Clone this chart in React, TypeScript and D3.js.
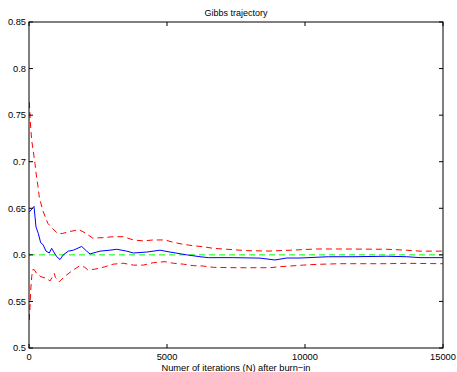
import React from "react";
import * as d3 from "d3";

const W = 457;
const H = 372;

const xTicks = [0, 5000, 10000, 15000];
const yTicks = [0.5, 0.55, 0.6, 0.65, 0.7, 0.75, 0.8, 0.85];
const trueValue = 0.6;

const meanIter = [11, 181, 254, 337, 424, 507, 616, 736, 822, 880, 1004, 1123, 1243, 1424, 1605, 1909, 2090, 2210, 2453, 2572, 2935, 3178, 3540, 3779, 4264, 4746, 5109, 5714, 6196, 6497, 7402, 8370, 8913, 9337, 9819, 10844, 11739, 12960, 13685, 14167, 15000];
const meanVal = [0.646, 0.652, 0.63, 0.623, 0.613, 0.611, 0.604, 0.602, 0.607, 0.604, 0.598, 0.595, 0.6, 0.604, 0.605, 0.609, 0.604, 0.601, 0.603, 0.604, 0.605, 0.606, 0.604, 0.602, 0.603, 0.605, 0.603, 0.6, 0.598, 0.597, 0.597, 0.5965, 0.5945, 0.5966, 0.5966, 0.598, 0.598, 0.5985, 0.598, 0.597, 0.597];

const upperIter = [11, 62, 98, 156, 217, 254, 315, 373, 496, 678, 859, 1040, 1221, 1460, 1822, 2065, 2308, 2692, 3054, 3417, 3779, 4141, 4504, 4928, 5228, 5591, 5953, 6315, 6677, 7163, 7888, 8732, 9457, 10424, 11268, 12960, 13685, 14167, 15000];
const upperVal = [0.764, 0.736, 0.723, 0.711, 0.698, 0.688, 0.676, 0.662, 0.648, 0.634, 0.628, 0.623, 0.623, 0.625, 0.627, 0.623, 0.618, 0.6185, 0.6195, 0.6195, 0.616, 0.615, 0.616, 0.616, 0.6135, 0.6113, 0.6098, 0.6087, 0.607, 0.606, 0.6045, 0.6041, 0.605, 0.6063, 0.6063, 0.606, 0.605, 0.604, 0.604];

const lowerIter = [11, 36, 62, 98, 134, 192, 279, 435, 616, 761, 917, 953, 1098, 1279, 1522, 1822, 2004, 2127, 2366, 2728, 3054, 3417, 3779, 4141, 4504, 4928, 5228, 5591, 5953, 6315, 6677, 7525, 8732, 9094, 9457, 9938, 10424, 11268, 12960, 13685, 15000];
const lowerVal = [0.53, 0.544, 0.562, 0.5765, 0.584, 0.584, 0.58, 0.5765, 0.575, 0.572, 0.58, 0.576, 0.571, 0.5765, 0.582, 0.588, 0.587, 0.584, 0.5845, 0.587, 0.59, 0.591, 0.589, 0.589, 0.5916, 0.5927, 0.591, 0.59, 0.5884, 0.588, 0.5866, 0.5862, 0.5862, 0.5873, 0.588, 0.589, 0.5898, 0.5905, 0.5905, 0.5909, 0.5905];

const L = 29, R = 443, T = 22, B = 348;
const FONT = "'Liberation Sans', Arial, Helvetica, sans-serif";

export default function App() {
  const x = d3.scaleLinear().domain([0, 15000]).range([L, R]);
  const y = d3.scaleLinear().domain([0.5, 0.85]).range([B, T]);
  const line = d3
    .line<[number, number]>()
    .x((d) => x(d[0]))
    .y((d) => y(d[1]));
  const zip = (a: number[], b: number[]) => a.map((v, i) => [v, b[i]] as [number, number]);
  const tl = 4;

  return (
    <svg width={W} height={H} style={{ position: "absolute", left: 0, top: 0, background: "#fff" }} fontFamily={FONT}>
      <rect x={0} y={0} width={W} height={H} fill="#fff" />
      <defs>
        <clipPath id="plot">
          <rect x={L} y={T} width={R - L} height={B - T} />
        </clipPath>
      </defs>
      <g clipPath="url(#plot)">
        <line x1={x(0)} x2={x(15000)} y1={y(trueValue)} y2={y(trueValue)} stroke="#00ff00" strokeWidth={1} strokeDasharray="6,4" />
        <path d={line(zip(upperIter, upperVal)) || ""} fill="none" stroke="#ff0000" strokeWidth={1} strokeDasharray="6,4" />
        <path d={line(zip(lowerIter, lowerVal)) || ""} fill="none" stroke="#ff0000" strokeWidth={1} strokeDasharray="6,4" />
        <path d={line(zip(meanIter, meanVal)) || ""} fill="none" stroke="#0000ff" strokeWidth={1} />
      </g>
      <rect x={L} y={T} width={R - L} height={B - T} fill="none" stroke="#000" strokeWidth={1} />
      {xTicks.map((t) => (
        <g key={"x" + t}>
          <line x1={x(t)} x2={x(t)} y1={B} y2={B - tl} stroke="#000" />
          <line x1={x(t)} x2={x(t)} y1={T} y2={T + tl} stroke="#000" />
          <text x={x(t)} y={360} fontSize={9.3} textAnchor="middle" fill="#000">
            {t}
          </text>
        </g>
      ))}
      {yTicks.map((t) => (
        <g key={"y" + t}>
          <line x1={L} x2={L + tl} y1={y(t)} y2={y(t)} stroke="#000" />
          <line x1={R} x2={R - tl} y1={y(t)} y2={y(t)} stroke="#000" />
          <text x={26} y={y(t) + 3.3} fontSize={9.3} textAnchor="end" fill="#000">
            {String(t)}
          </text>
        </g>
      ))}
      <text x={(L + R) / 2} y={16} fontSize={9} textAnchor="middle" fill="#000">
        Gibbs trajectory
      </text>
      <text x={(L + R) / 2} y={370.5} fontSize={9.3} textAnchor="middle" fill="#000">
        Numer of iterations (N) after burn−in
      </text>
    </svg>
  );
}
